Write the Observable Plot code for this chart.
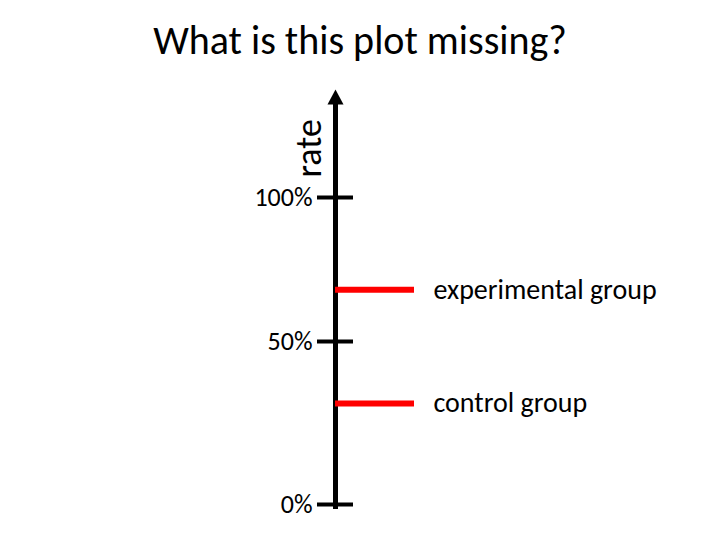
<!DOCTYPE html>
<html>
<head>
<meta charset="utf-8">
<script src="https://cdn.jsdelivr.net/npm/d3@7"></script>
<script src="https://cdn.jsdelivr.net/npm/@observablehq/plot@0.6"></script>
<style>
  html, body { margin: 0; padding: 0; background: #fff; }
  body { width: 720px; height: 540px; overflow: hidden; font-family: Carlito, Calibri, Lato, sans-serif; }
  #title { box-sizing: border-box; height: 75px; padding-top: 21px; margin: 0; text-align: center;
           font-size: 40px; line-height: 40px; font-weight: normal; color: #000; }
  svg { display: block; }
</style>
</head>
<body>
<div id="title"></div>
<div id="chart"></div>
<script>
// ---- data ----
const titleText = "What is this plot missing?";
const axisLabel = "rate";
const groups = ["experimental group", "control group"];
const rates = [68, 31];           // percent
const tickValues = [0, 50, 100];  // percent
const tickLabels = ["0%", "50%", "100%"];

document.getElementById("title").textContent = titleText;

const data = groups.map((g, i) => ({group: g, rate: rates[i]}));

// filled arrowhead with its tip above the top of the frame
const arrowHead = {
  draw(ctx) {
    ctx.moveTo(0, -14);
    ctx.lineTo(8, 1);
    ctx.lineTo(-8, 1);
    ctx.closePath();
  }
};

const plot = Plot.plot({
  width: 720,
  height: 465,
  marginLeft: 335,
  marginRight: 306,
  marginTop: 28,
  marginBottom: 31,
  style: {fontFamily: "Carlito, Calibri, Lato, sans-serif", color: "#000", background: "#fff"},
  x: {domain: [0, 1], axis: null},
  y: {type: "linear", domain: tickValues, range: [429, 266, 122]},
  marks: [
    // vertical axis line at the left edge of the frame
    Plot.ruleX([0], {stroke: "#000", strokeWidth: 5}),
    Plot.dot([0], {frameAnchor: "top-left", symbol: arrowHead, fill: "#000", stroke: "none"}),
    // ticks crossing the axis + labels
    Plot.axisY(tickValues, {
      anchor: "left",
      tickSize: 36,
      dx: 18,
      tickPadding: 5,
      strokeWidth: 4,
      fontSize: 26,
      tickFormat: (d) => tickLabels[tickValues.indexOf(d)],
      label: null
    }),
    // axis label
    Plot.text([axisLabel], {
      frameAnchor: "top-left",
      rotate: -90,
      textAnchor: "start",
      dx: -40,
      dy: 74,
      fontSize: 36,
      fill: "#000"
    }),
    // group values
    Plot.tickY(data, {y: "rate", stroke: "#ff0000", strokeWidth: 6}),
    Plot.text(data, {
      y: "rate",
      text: "group",
      frameAnchor: "right",
      textAnchor: "start",
      dx: 19,
      fontSize: 28,
      fill: "#000"
    })
  ]
});
document.getElementById("chart").appendChild(plot);
</script>
</body>
</html>
